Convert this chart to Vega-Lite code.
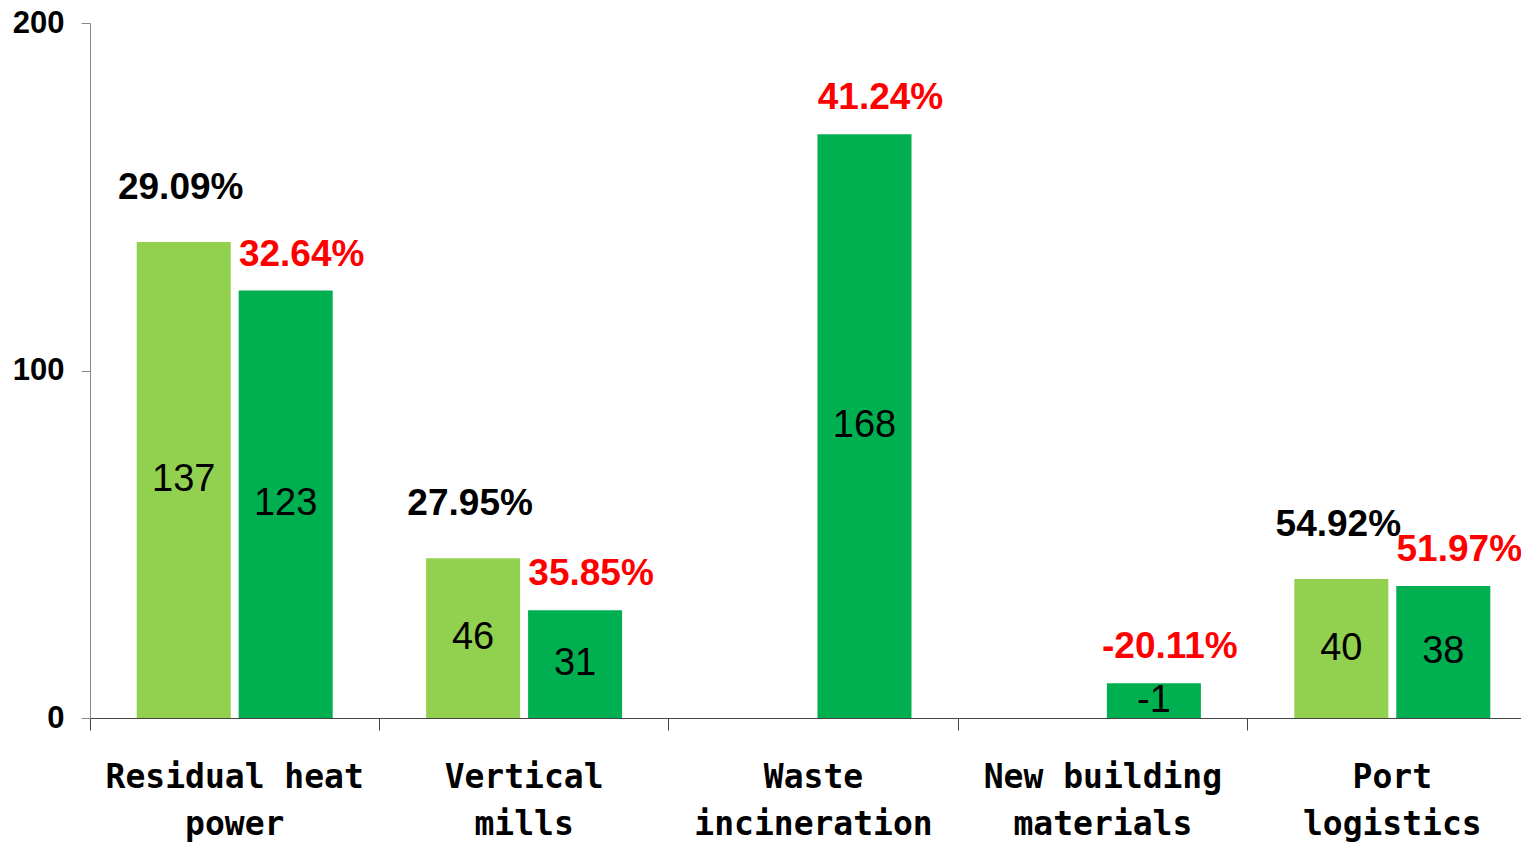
{
  "$schema": "https://vega.github.io/schema/vega-lite/v6.json",
  "autosize": {"type": "none"},
  "padding": {"left": 90, "top": 23, "right": 0, "bottom": 126},
  "width": 1431,
  "height": 695,
  "background": "white",
  "config": {"view": {"stroke": null}},
  "data": {
    "values": [
      {"category": "Residual heat\npower", "series": "Prior", "value": 137, "label": "137", "pct": "29.09%"},
      {"category": "Residual heat\npower", "series": "Current", "value": 123, "label": "123", "pct": "32.64%"},
      {"category": "Vertical\nmills", "series": "Prior", "value": 46, "label": "46", "pct": "27.95%"},
      {"category": "Vertical\nmills", "series": "Current", "value": 31, "label": "31", "pct": "35.85%"},
      {"category": "Waste\nincineration", "series": "Current", "value": 168, "label": "168", "pct": "41.24%"},
      {"category": "New building\nmaterials", "series": "Current", "value": 10, "label": "-1", "pct": "-20.11%"},
      {"category": "Port\nlogistics", "series": "Prior", "value": 40, "label": "40", "pct": "54.92%"},
      {"category": "Port\nlogistics", "series": "Current", "value": 38, "label": "38", "pct": "51.97%"}
    ]
  },
  "encoding": {
    "x": {
      "field": "category", "type": "nominal", "sort": null,
      "scale": {"range": [0, 1447], "paddingInner": 0, "paddingOuter": 0},
      "axis": {
        "title": null, "bandPosition": 0, "labelAngle": 0,
        "domainColor": "#444", "tickColor": "#444", "tickSize": 12,
        "labelFont": "DejaVu Sans Mono", "labelFontWeight": "bold", "labelFontSize": 33,
        "labelColor": "#000", "labelLineHeight": 47, "labelBaseline": "top",
        "labelPadding": 31, "labelOverlap": false, "labelBound": false, "labelLimit": 0,
        "labelExpr": "split(datum.label, '\\n')"
      }
    },
    "xOffset": {
      "field": "series", "type": "nominal",
      "scale": {"domain": ["Prior", "Current"], "paddingInner": 0.078, "paddingOuter": 0.458}
    }
  },
  "layer": [
    {
      "mark": {"type": "bar"},
      "encoding": {
        "y": {
          "field": "value", "type": "quantitative",
          "scale": {"domain": [0, 200], "nice": false},
          "axis": {
            "title": null, "values": [0, 100, 200], "grid": false,
            "domainColor": "#888", "tickColor": "#888", "tickSize": 9,
            "labelFont": "Liberation Sans", "labelFontWeight": "bold", "labelFontSize": 31,
            "labelColor": "#000", "labelPadding": 17
          }
        },
        "color": {
          "field": "series", "type": "nominal",
          "scale": {"domain": ["Prior", "Current"], "range": ["#92D050", "#00B050"]},
          "legend": null
        }
      }
    },
    {
      "transform": [{"filter": "datum.series === 'Prior'"}],
      "mark": {"type": "text", "font": "Liberation Sans", "fontWeight": "bold", "fontSize": 37, "color": "#000", "baseline": "middle", "dy": -54, "dx": -3},
      "encoding": {
        "y": {"field": "value", "type": "quantitative", "scale": {"domain": [0, 200], "nice": false}, "axis": null},
        "text": {"field": "pct"}
      }
    },
    {
      "transform": [{"filter": "datum.series === 'Current'"}],
      "mark": {"type": "text", "font": "Liberation Sans", "fontWeight": "bold", "fontSize": 37, "color": "#FF0000", "baseline": "middle", "dy": -36, "dx": 16},
      "encoding": {
        "y": {"field": "value", "type": "quantitative", "scale": {"domain": [0, 200], "nice": false}, "axis": null},
        "text": {"field": "pct"}
      }
    },
    {
      "mark": {"type": "text", "font": "Liberation Sans", "fontSize": 38, "color": "#000", "baseline": "middle"},
      "encoding": {
        "y": {"field": "value", "type": "quantitative", "scale": {"domain": [0, 400], "nice": false}, "axis": null},
        "text": {"field": "label"}
      }
    }
  ],
  "resolve": {"scale": {"y": "independent"}}
}
